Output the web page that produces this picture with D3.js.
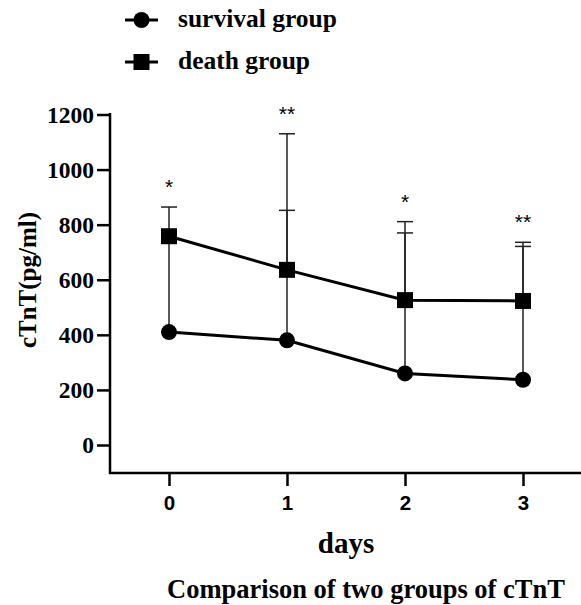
<!DOCTYPE html>
<html><head><meta charset="utf-8">
<script src="https://cdn.jsdelivr.net/npm/d3@7"></script>
<style>body{margin:0;background:#fff}svg{display:block}</style>
</head><body>
<script>
const days = [0, 1, 2, 3];
const survivalMean = [410, 380, 260, 237];
const survivalUpper = [750, 852, 770, 721];
const deathMean = [758, 636, 526, 523];
const deathUpper = [864, 1130, 811, 736];
const significance = ["*", "**", "*", "**"];
const yTicks = [0, 200, 400, 600, 800, 1000, 1200];

const W = 581, H = 605;
const svg = d3.select("body").append("svg").attr("width", W).attr("height", H);
const x = d3.scaleLinear().domain([-0.5, 3.5]).range([110, 582]);
const y = d3.scaleLinear().domain([0, 1200]).range([445, 114.5]);
const serif = "'Liberation Serif','Times New Roman',serif";
const sans = "'Liberation Sans',Arial,sans-serif";

// axes
const yAxis = svg.append("g").attr("transform", "translate(110,0)")
  .call(d3.axisLeft(y).tickValues(yTicks).tickFormat(d3.format("d")).tickSize(13).tickPadding(3).tickSizeOuter(0));
yAxis.select(".domain").remove();
yAxis.selectAll(".tick line").attr("stroke", "#000").attr("stroke-width", 2.5);
yAxis.selectAll(".tick text").attr("font-family", serif).attr("font-weight", "bold").attr("font-size", 23.5).attr("fill", "#000");
svg.append("line").attr("x1", 110).attr("x2", 110).attr("y1", 113).attr("y2", 474).attr("stroke", "#000").attr("stroke-width", 2.5);

const xAxis = svg.append("g").attr("transform", "translate(0,473)")
  .call(d3.axisBottom(x).tickValues(days).tickFormat(d3.format("d")).tickSize(13).tickPadding(9));
xAxis.select(".domain").remove();
xAxis.selectAll(".tick line").attr("stroke", "#000").attr("stroke-width", 2.5);
xAxis.selectAll(".tick text").attr("font-family", sans).attr("font-weight", "bold").attr("font-size", 20.5).attr("fill", "#000");
svg.append("line").attr("x1", 109).attr("x2", 581).attr("y1", 473).attr("y2", 473).attr("stroke", "#000").attr("stroke-width", 2.5);

// error bars
function errBars(mean, upper) {
  const g = svg.append("g");
  days.forEach((d, i) => {
    g.append("line").attr("x1", x(d)).attr("x2", x(d)).attr("y1", y(mean[i])).attr("y2", y(upper[i]))
      .attr("stroke", "#222").attr("stroke-width", 1.5);
    g.append("line").attr("x1", x(d) - 8).attr("x2", x(d) + 8).attr("y1", y(upper[i])).attr("y2", y(upper[i]))
      .attr("stroke", "#222").attr("stroke-width", 1.5);
  });
}
errBars(survivalMean, survivalUpper);
errBars(deathMean, deathUpper);

const line = d3.line().x((d, i) => x(days[i])).y(d => y(d));
svg.append("path").attr("d", line(survivalMean)).attr("fill", "none").attr("stroke", "#000").attr("stroke-width", 3);
svg.append("path").attr("d", line(deathMean)).attr("fill", "none").attr("stroke", "#000").attr("stroke-width", 3);

svg.append("g").selectAll("circle").data(survivalMean).join("circle")
  .attr("cx", (d, i) => x(days[i])).attr("cy", d => y(d)).attr("r", 8).attr("fill", "#000");
svg.append("g").selectAll("rect").data(deathMean).join("rect")
  .attr("x", (d, i) => x(days[i]) - 8).attr("y", d => y(d) - 8).attr("width", 16).attr("height", 16).attr("fill", "#000");

// significance stars
svg.append("g").selectAll("text").data(significance).join("text")
  .attr("x", (d, i) => x(days[i])).attr("y", (d, i) => y(Math.max(deathUpper[i], survivalUpper[i])) - 13)
  .attr("text-anchor", "middle").attr("font-family", sans).attr("font-size", 21).attr("fill", "#000").text(d => d);

// labels
svg.append("text").attr("transform", "translate(36,280) rotate(-90)").attr("text-anchor", "middle")
  .attr("font-family", serif).attr("font-weight", "bold").attr("font-size", 25).text("cTnT(pg/ml)");
svg.append("text").attr("x", 346).attr("y", 553).attr("text-anchor", "middle")
  .attr("font-family", serif).attr("font-weight", "bold").attr("font-size", 29).text("days");
svg.append("text").attr("x", 366).attr("y", 598).attr("text-anchor", "middle")
  .attr("font-family", serif).attr("font-weight", "bold").attr("font-size", 26.5).text("Comparison of two groups of cTnT");

// legend
const leg = svg.append("g");
[["survival group", "circle", 20], ["death group", "rect", 62]].forEach(([label, shape, ly]) => {
  leg.append("line").attr("x1", 125).attr("x2", 158).attr("y1", ly).attr("y2", ly).attr("stroke", "#000").attr("stroke-width", 3);
  if (shape === "circle") leg.append("circle").attr("cx", 141.5).attr("cy", ly).attr("r", 8);
  else leg.append("rect").attr("x", 133.5).attr("y", ly - 8).attr("width", 16).attr("height", 16);
  leg.append("text").attr("x", 178).attr("y", ly + 7).attr("font-family", serif).attr("font-weight", "bold")
    .attr("font-size", 25.5).text(label);
});
</script>
</body></html>
